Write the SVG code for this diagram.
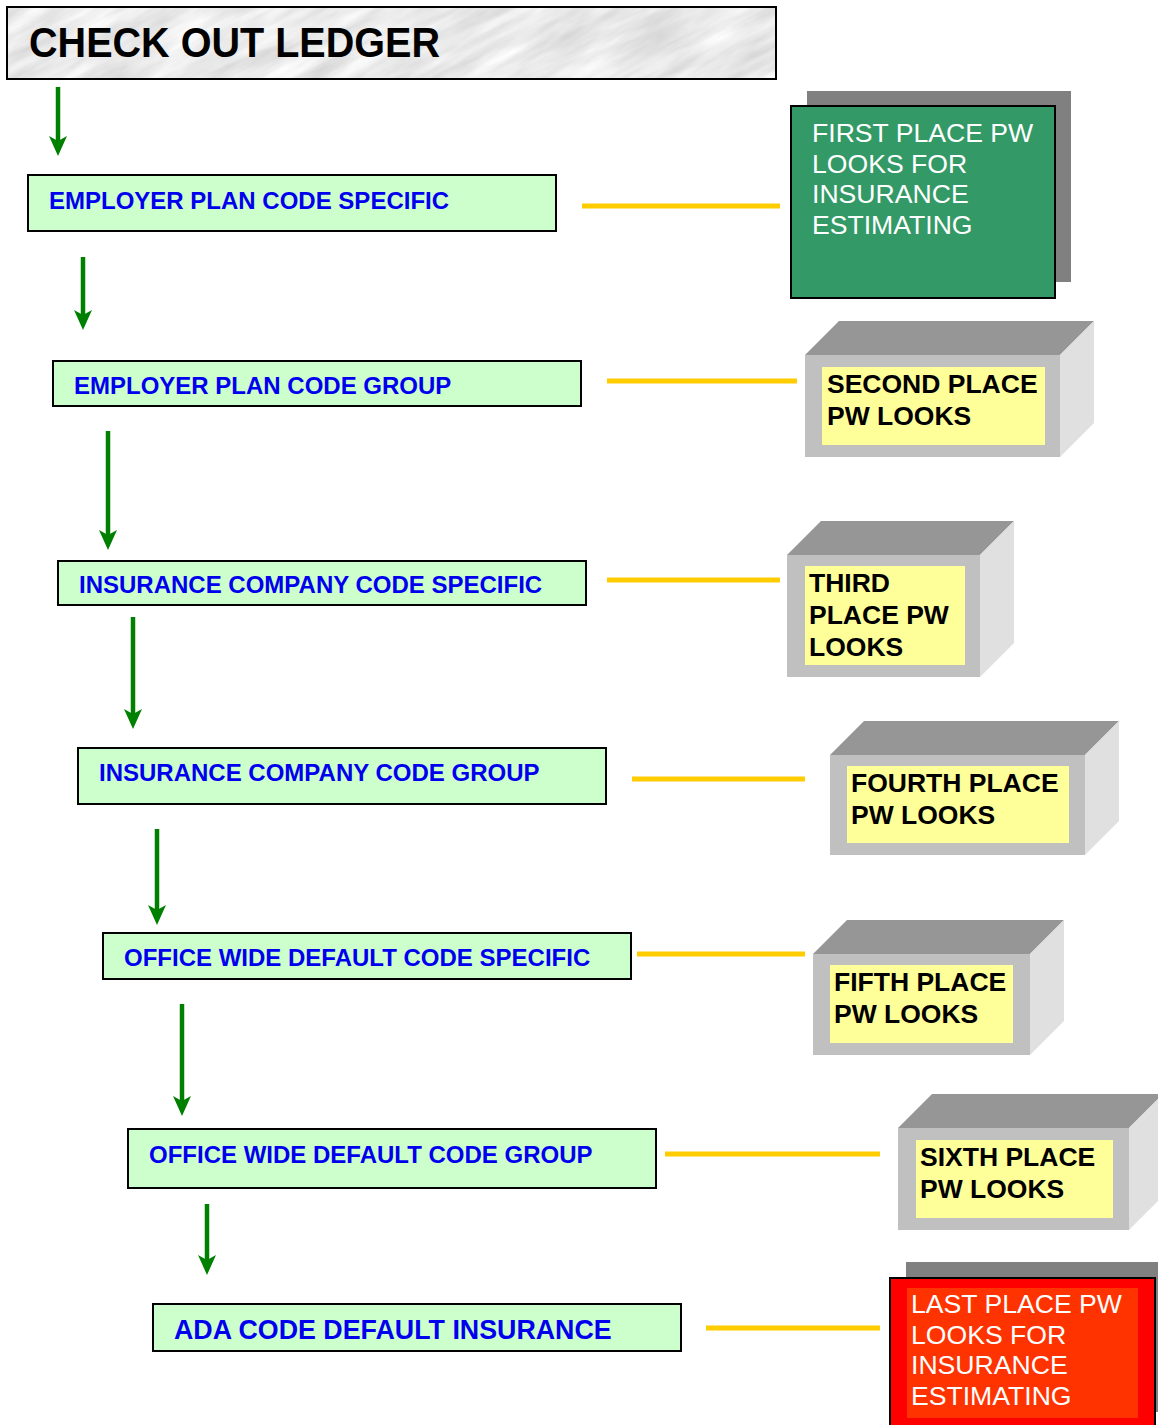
<svg xmlns="http://www.w3.org/2000/svg" width="1158" height="1425" viewBox="0 0 1158 1425">
<style>
.step{fill:#ccffcc;stroke:#000;stroke-width:2}
.stxt{font-family:"Liberation Sans",Arial,sans-serif;font-weight:bold;font-size:24px;fill:#0000ee}
.link{stroke:#ffcc00;stroke-width:5;fill:none}
.flow{stroke:#008000;stroke-width:4.5;fill:none}
.front{fill:#c0c0c0}
.top{fill:#969696}
.side{fill:#e0e0e0}
.face{fill:#ffff99}
.btxt{font-family:"Liberation Sans",Arial,sans-serif;font-weight:bold;font-size:26.5px;fill:#000}
.wtxt{font-family:"Liberation Sans",Arial,sans-serif;font-size:26.6px;fill:#fff}
</style>
<defs>
<marker id="ah" viewBox="0 0 20 18" markerWidth="20" markerHeight="18" refX="10" refY="9" orient="auto" markerUnits="userSpaceOnUse">
<path d="M0,0 L20,9 L0,18 L5,9 Z" fill="#008000"/>
</marker>
<filter id="marble" x="0" y="0" width="1" height="1">
<feTurbulence type="fractalNoise" baseFrequency="0.012 0.07" numOctaves="4" seed="3"/>
<feColorMatrix values="0.45 0 0 0 0.6  0.45 0 0 0 0.6  0.45 0 0 0 0.6  0 0 0 0 1"/>
</filter>
<clipPath id="tclip"><rect x="7" y="7" width="769" height="72"/></clipPath>
</defs>
<rect width="1158" height="1425" fill="#fff"/>

<g id="title">
<g clip-path="url(#tclip)">
<rect x="-300" y="-500" width="1400" height="1100" transform="rotate(-28 390 43)" filter="url(#marble)"/>
</g>
<rect x="7" y="7" width="769" height="72" fill="none" stroke="#000" stroke-width="2"/>
<text x="29" y="57" font-family="'Liberation Sans',Arial,sans-serif" font-weight="bold" font-size="42" textLength="411" lengthAdjust="spacingAndGlyphs">CHECK OUT LEDGER</text>
</g>

<g id="connectors">
<line class="flow" x1="58" y1="87" x2="58" y2="146" marker-end="url(#ah)"/>
<line class="flow" x1="83" y1="257" x2="83" y2="320" marker-end="url(#ah)"/>
<line class="flow" x1="108" y1="431" x2="108" y2="540" marker-end="url(#ah)"/>
<line class="flow" x1="133" y1="617" x2="133" y2="719" marker-end="url(#ah)"/>
<line class="flow" x1="157" y1="829" x2="157" y2="915" marker-end="url(#ah)"/>
<line class="flow" x1="182" y1="1004" x2="182" y2="1106" marker-end="url(#ah)"/>
<line class="flow" x1="207" y1="1204" x2="207" y2="1265" marker-end="url(#ah)"/>
<line class="link" x1="582" y1="206" x2="780" y2="206"/>
<line class="link" x1="607" y1="381" x2="797" y2="381"/>
<line class="link" x1="607" y1="580" x2="780" y2="580"/>
<line class="link" x1="632" y1="779" x2="805" y2="779"/>
<line class="link" x1="637" y1="954" x2="805" y2="954"/>
<line class="link" x1="665" y1="1154" x2="880" y2="1154"/>
<line class="link" x1="706" y1="1328" x2="880" y2="1328"/>
</g>

<g id="s1"><rect class="step" x="28" y="175" width="528" height="56"/><text class="stxt" x="49" y="209">EMPLOYER PLAN CODE SPECIFIC</text></g>
<g id="s2"><rect class="step" x="53" y="361" width="528" height="45"/><text class="stxt" x="74" y="394">EMPLOYER PLAN CODE GROUP</text></g>
<g id="s3"><rect class="step" x="58" y="561" width="528" height="44"/><text class="stxt" x="79" y="593">INSURANCE COMPANY CODE SPECIFIC</text></g>
<g id="s4"><rect class="step" x="78" y="748" width="528" height="56"/><text class="stxt" x="99" y="781">INSURANCE COMPANY CODE GROUP</text></g>
<g id="s5"><rect class="step" x="103" y="933" width="528" height="46"/><text class="stxt" x="124" y="966">OFFICE WIDE DEFAULT CODE SPECIFIC</text></g>
<g id="s6"><rect class="step" x="128" y="1129" width="528" height="59"/><text class="stxt" x="149" y="1163">OFFICE WIDE DEFAULT CODE GROUP</text></g>
<g id="s7"><rect class="step" x="153" y="1304" width="528" height="47"/><text class="stxt" x="174" y="1339" style="font-size:26.8px">ADA CODE DEFAULT INSURANCE</text></g>

<g id="p1">
<rect x="807" y="91" width="264" height="191" fill="#808080"/>
<rect x="791" y="106" width="264" height="192" fill="#339966" stroke="#000" stroke-width="2"/>
<text class="wtxt" x="812" y="142">FIRST PLACE PW</text>
<text class="wtxt" x="812" y="173">LOOKS FOR</text>
<text class="wtxt" x="812" y="203">INSURANCE</text>
<text class="wtxt" x="812" y="234">ESTIMATING</text>
</g>

<g id="p2">
<polygon class="top" points="805,355 839,321 1094,321 1060,355"/>
<polygon class="side" points="1060,355 1094,321 1094,423 1060,457"/>
<rect class="front" x="805" y="355" width="255" height="102"/>
<rect class="face" x="822" y="367" width="223" height="78"/>
<text class="btxt" x="827" y="393">SECOND PLACE</text>
<text class="btxt" x="827" y="425">PW LOOKS</text>
</g>

<g id="p3">
<polygon class="top" points="787,555 821,521 1014,521 980,555"/>
<polygon class="side" points="980,555 1014,521 1014,643 980,677"/>
<rect class="front" x="787" y="555" width="193" height="122"/>
<rect class="face" x="805" y="566" width="160" height="99"/>
<text class="btxt" x="809" y="592">THIRD</text>
<text class="btxt" x="809" y="624">PLACE PW</text>
<text class="btxt" x="809" y="656">LOOKS</text>
</g>

<g id="p4">
<polygon class="top" points="830,755 864,721 1119,721 1085,755"/>
<polygon class="side" points="1085,755 1119,721 1119,821 1085,855"/>
<rect class="front" x="830" y="755" width="255" height="100"/>
<rect class="face" x="847" y="766" width="222" height="77"/>
<text class="btxt" x="851" y="792">FOURTH PLACE</text>
<text class="btxt" x="851" y="824">PW LOOKS</text>
</g>

<g id="p5">
<polygon class="top" points="813,954 847,920 1064,920 1030,954"/>
<polygon class="side" points="1030,954 1064,920 1064,1021 1030,1055"/>
<rect class="front" x="813" y="954" width="217" height="101"/>
<rect class="face" x="830" y="965" width="183" height="78"/>
<text class="btxt" x="834" y="991">FIFTH PLACE</text>
<text class="btxt" x="834" y="1023">PW LOOKS</text>
</g>

<g id="p6">
<polygon class="top" points="898,1128 932,1094 1163,1094 1129,1128"/>
<polygon class="side" points="1129,1128 1163,1094 1163,1196 1129,1230"/>
<rect class="front" x="898" y="1128" width="231" height="102"/>
<rect class="face" x="916" y="1140" width="197" height="78"/>
<text class="btxt" x="920" y="1166">SIXTH PLACE</text>
<text class="btxt" x="920" y="1198">PW LOOKS</text>
</g>

<g id="p7">
<rect x="906" y="1262" width="265" height="150" fill="#808080"/>
<rect x="890" y="1278" width="265" height="160" fill="#ff0000" stroke="#000" stroke-width="2"/>
<rect x="907" y="1288" width="231" height="130" fill="#ff3300"/>
<text class="wtxt" x="911" y="1313">LAST PLACE PW</text>
<text class="wtxt" x="911" y="1344">LOOKS FOR</text>
<text class="wtxt" x="911" y="1374">INSURANCE</text>
<text class="wtxt" x="911" y="1405">ESTIMATING</text>
</g>
</svg>
